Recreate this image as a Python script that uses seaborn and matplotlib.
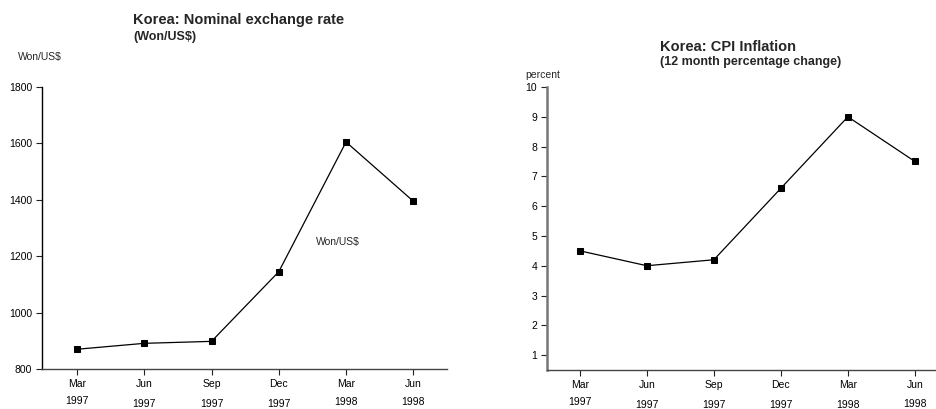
import matplotlib
matplotlib.use("Agg")
import matplotlib.pyplot as plt
import matplotlib.transforms as mtransforms
import seaborn as sns
import pandas as pd

# Data
months = ["Mar", "Jun", "Sep", "Dec", "Mar", "Jun"]
years = ["1997", "1997", "1997", "1997", "1998", "1998"]
won_per_usd = [870, 891, 898, 1145, 1605, 1395]
cpi_inflation = [4.5, 4.0, 4.2, 6.6, 9.0, 7.5]

sns.set_style("white")
plt.rcParams['font.family'] = ['Liberation Sans', 'DejaVu Sans']
plt.rcParams['font.size'] = 7.5

fig = plt.figure(figsize=(9.37, 4.09), dpi=100)
ax1 = fig.add_axes([0.0448, 0.0978, 0.4322, 0.6895])
ax2 = fig.add_axes([0.5838, 0.0954, 0.4162, 0.6919])

df1 = pd.DataFrame({'pos': range(len(months)), 'value': won_per_usd})
df2 = pd.DataFrame({'pos': range(len(months)), 'value': cpi_inflation})


def style_axis(ax, yspine_color, yspine_width, year_offsets):
    for side in ['top', 'right']:
        ax.spines[side].set_visible(False)
    ax.spines['left'].set_color(yspine_color)
    ax.spines['left'].set_linewidth(yspine_width)
    ax.spines['bottom'].set_color('#444444')
    ax.spines['bottom'].set_linewidth(1.0)
    ax.tick_params(axis='both', direction='out', length=4, width=0.8,
                   color='#222222', labelcolor='black', labelsize=7.5, pad=3,
                   bottom=True, left=True)
    ax.tick_params(axis='x', pad=3)
    ax.set_xticks(range(len(months)))
    ax.set_xticklabels(months)
    ax.set_xlabel('')
    ax.set_ylabel('')
    # year labels sit at slightly uneven heights in the original
    trans = mtransforms.blended_transform_factory(ax.transData, ax.transAxes)
    for i, (yr, off) in enumerate(zip(years, year_offsets)):
        ax.text(i, off, yr, transform=trans, ha='center', va='top',
                fontsize=7.5, color='black')


# Left: exchange rate
sns.lineplot(data=df1, x='pos', y='value', ax=ax1, color='black', linewidth=0.9,
             marker='s', markersize=5, markeredgecolor='black')
ax1.set_xlim(-0.52, 5.5)
ax1.set_ylim(800, 1800)
ax1.set_yticks([800, 1000, 1200, 1400, 1600, 1800])
style_axis(ax1, 'black', 1.0, [-0.094, -0.106, -0.106, -0.106, -0.099, -0.099])
ax1.text(0.677, 0.45, 'Won/US$', transform=ax1.transAxes, fontsize=7.5,
         va='center', ha='left')

fig.text(133 / 937, 1 - 20 / 409, 'Korea: Nominal exchange rate', fontsize=10.5,
         fontweight='bold', va='center', ha='left')
fig.text(133 / 937, 1 - 37 / 409, '(Won/US$)', fontsize=9,
         fontweight='bold', va='center', ha='left')
fig.text(18 / 937, 1 - 57 / 409, 'Won/US$', fontsize=7.5, va='center', ha='left')

# Right: CPI inflation
sns.lineplot(data=df2, x='pos', y='value', ax=ax2, color='black', linewidth=0.9,
             marker='s', markersize=5, markeredgecolor='black')
ax2.set_xlim(-0.49, 5.33)
ax2.set_ylim(0.5, 10)
ax2.set_yticks(range(1, 11))
style_axis(ax2, '#777777', 1.8, [-0.094, -0.106, -0.106, -0.106, -0.106, -0.102])

fig.text(660 / 937, 1 - 47 / 409, 'Korea: CPI Inflation', fontsize=10.5,
         fontweight='bold', va='center', ha='left')
fig.text(660 / 937, 1 - 62 / 409, '(12 month percentage change)', fontsize=9,
         fontweight='bold', va='center', ha='left')
fig.text(525 / 937, 1 - 75 / 409, 'percent', fontsize=7.5, va='center', ha='left')

plt.savefig('out.png', dpi=100)
plt.close()
